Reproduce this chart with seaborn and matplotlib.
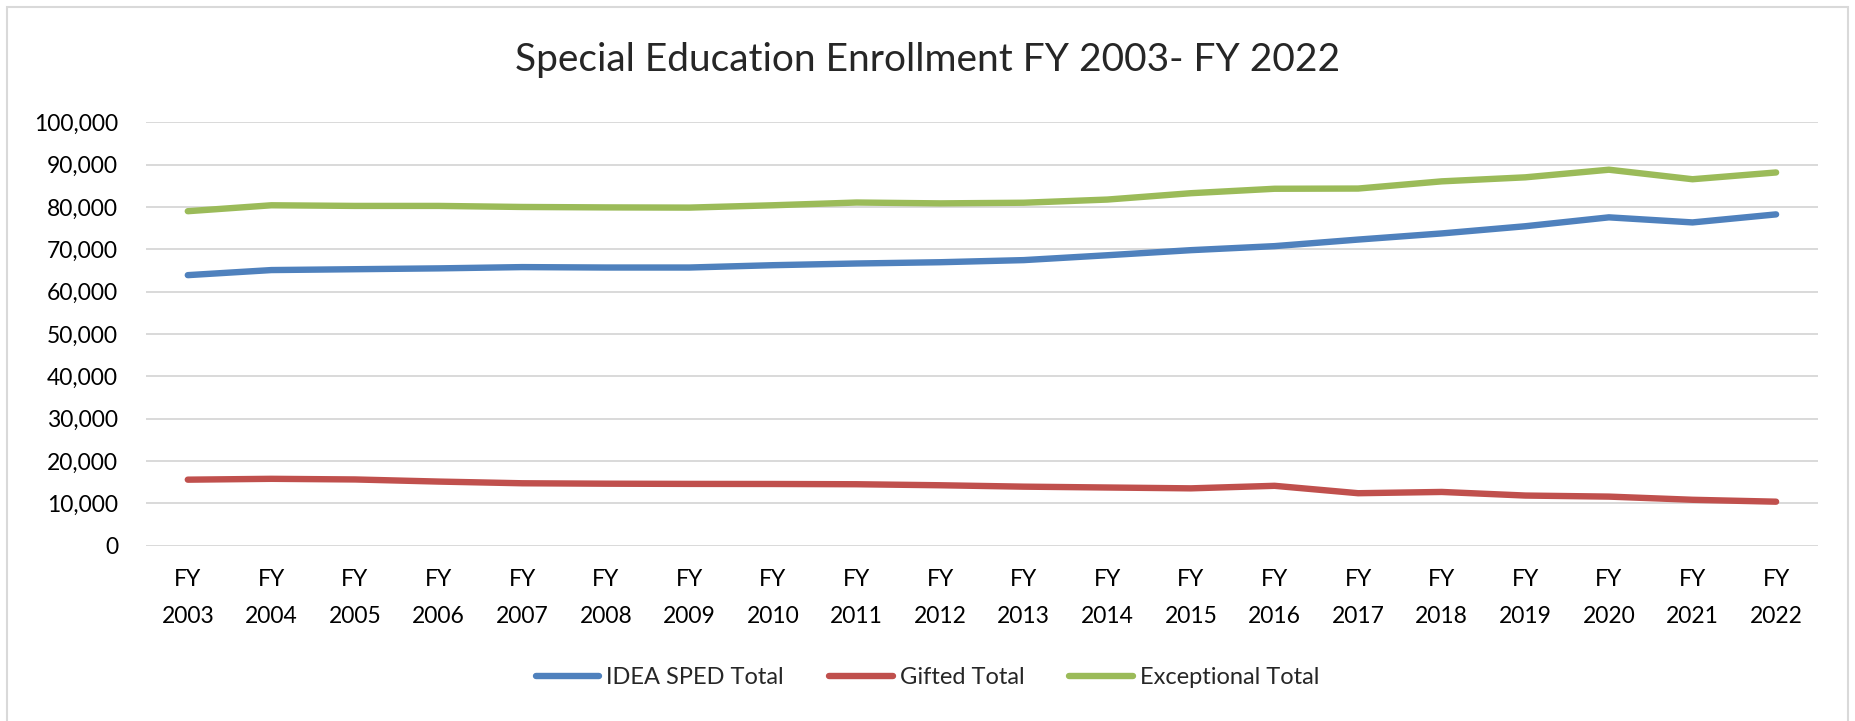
import pandas as pd
import seaborn as sns
import matplotlib.pyplot as plt
from matplotlib.patches import Rectangle
from matplotlib.ticker import FuncFormatter

# values
years = list(range(2003, 2023))
idea_sped = [63900, 65100, 65300, 65500, 65800, 65700, 65700, 66250, 66650, 66950,
             67450, 68600, 69800, 70750, 72300, 73750, 75450, 77550, 76350, 78250]
gifted = [15600, 15800, 15650, 15150, 14750, 14650, 14600, 14580, 14520, 14280,
          13950, 13750, 13550, 14150, 12400, 12700, 11850, 11600, 10850, 10400]
exceptional = [79000, 80400, 80250, 80250, 80000, 79900, 79850, 80400, 81050, 80850,
               81000, 81750, 83250, 84300, 84350, 86050, 87000, 88800, 86550, 88150]
series_names = ["IDEA SPED Total", "Gifted Total", "Exceptional Total"]
colors = ["#4F81BD", "#C0504D", "#9BBB59"]

df = pd.DataFrame({"year": years, series_names[0]: idea_sped,
                   series_names[1]: gifted, series_names[2]: exceptional})
long_df = df.melt(id_vars="year", var_name="series", value_name="enrollment")

sns.set_style("white")
plt.rcParams["font.family"] = ["Lato", "DejaVu Sans"]

fig = plt.figure(figsize=(18.55, 7.21), dpi=100)
ax = fig.add_axes([0.0787, 0.2431, 0.9013, 0.5873])

sns.lineplot(data=long_df, x="year", y="enrollment", hue="series",
             hue_order=series_names, palette=colors, linewidth=4.6,
             solid_capstyle="round", ax=ax, legend=False)

ax.set_xlim(years[0] - 0.5, years[-1] + 0.5)
ax.set_ylim(0, 100000)
ax.set_yticks(range(0, 100001, 10000))
ax.yaxis.set_major_formatter(FuncFormatter(lambda v, p: f"{int(v):,}"))
ax.set_xticks(years)
ax.set_xticklabels([f"FY\n{y}" for y in years], linespacing=1.9)
ax.tick_params(axis="y", length=0, pad=20, labelsize=16.5, colors="#000000")
ax.tick_params(axis="x", length=0, pad=17, labelsize=16.5, colors="#000000")
ax.grid(axis="y", color="#D9D9D9", linewidth=1.4)
ax.set_axisbelow(True)
for s in ax.spines.values():
    s.set_visible(False)
ax.set_xlabel("")
ax.set_ylabel("")

fig.text(0.5, 0.917, "Special Education Enrollment FY 2003- FY 2022",
         ha="center", va="center", fontsize=28)

handles = [plt.Line2D([], [], color=c, linewidth=4.6, solid_capstyle="round") for c in colors]
fig.legend(handles, series_names, loc="center", bbox_to_anchor=(0.5, 0.06), ncol=3,
           frameon=False, fontsize=17, handlelength=2.7, handletextpad=0.3,
           columnspacing=1.9)

# outer chart border
fig.patches.append(Rectangle((7 / 1855, -0.05), 1841 / 1855, 1.05 - 7 / 721,
                             transform=fig.transFigure, fill=False,
                             edgecolor="#D9D9D9", linewidth=1.5))

fig.savefig("out.png", dpi=100, facecolor="white")
